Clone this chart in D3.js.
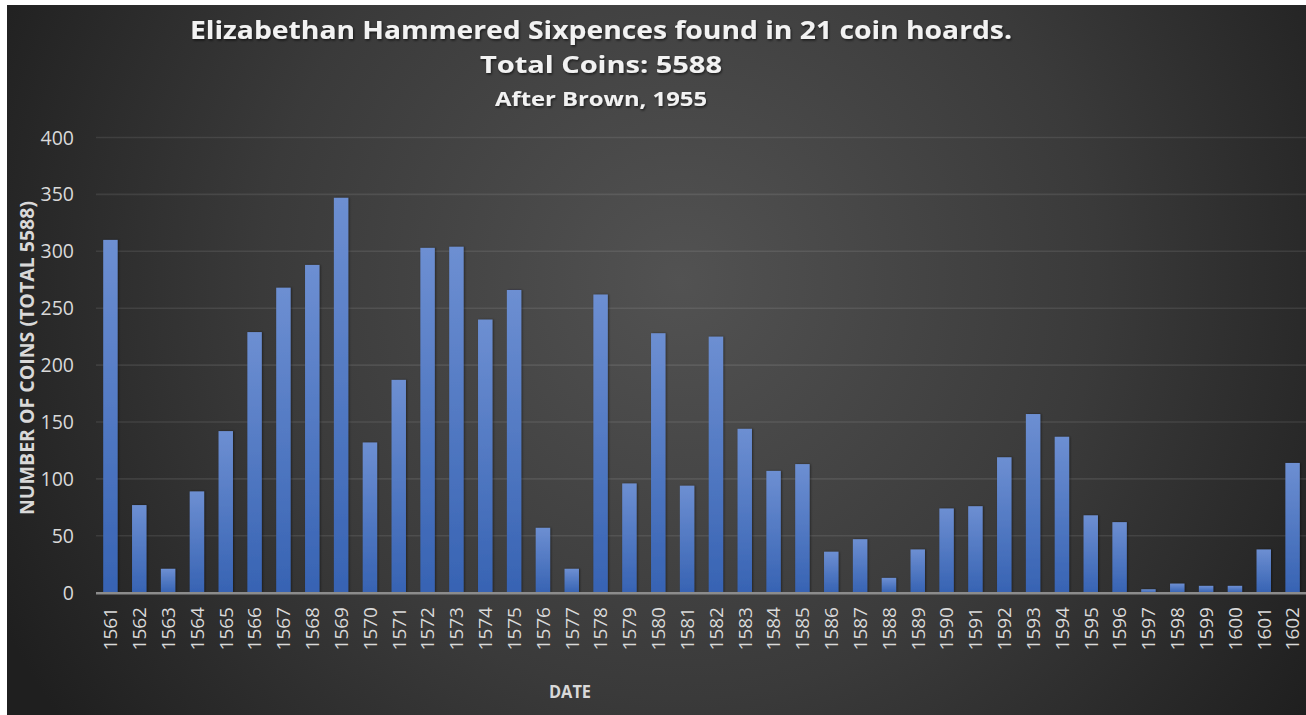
<!DOCTYPE html>
<html>
<head>
<meta charset="utf-8">
<script src="https://cdn.jsdelivr.net/npm/d3@7"></script>
<style>
  html, body { margin: 0; padding: 0; background: #ffffff; }
  svg { display: block; }
</style>
</head>
<body>
<svg id="chart" width="1306" height="715"></svg>
<script>
const years = ["1561","1562","1563","1564","1565","1566","1567","1568","1569","1570","1571","1572","1573","1574","1575","1576","1577","1578","1579","1580","1581","1582","1583","1584","1585","1586","1587","1588","1589","1590","1591","1592","1593","1594","1595","1596","1597","1598","1599","1600","1601","1602"];
const coins = [310,77,21,89,142,229,268,288,347,132,187,303,304,240,266,57,21,262,96,228,94,225,144,107,113,36,47,13,38,74,76,119,157,137,68,62,3,8,6,6,38,114];
const yTicks = [0,50,100,150,200,250,300,350,400];
const titleLines = ["Elizabethan Hammered Sixpences found in 21 coin hoards.", "Total Coins: 5588", "After Brown, 1955"];
const yAxisTitle = "NUMBER OF COINS (TOTAL 5588)";
const xAxisTitle = "DATE";

const svg = d3.select("#chart");
const defs = svg.append("defs");

const bg = defs.append("radialGradient").attr("id","bg")
  .attr("gradientUnits","userSpaceOnUse")
  .attr("cx",680).attr("cy",280).attr("r",760);
bg.append("stop").attr("offset","0%").attr("stop-color","#525252");
bg.append("stop").attr("offset","55%").attr("stop-color","#3a3a3a");
bg.append("stop").attr("offset","100%").attr("stop-color","#1f1f1f");

const barGrad = defs.append("linearGradient").attr("id","barGrad")
  .attr("x1",0).attr("y1",0).attr("x2",0).attr("y2",1);
barGrad.append("stop").attr("offset","0%").attr("stop-color","#6d8fd2");
barGrad.append("stop").attr("offset","100%").attr("stop-color","#3763b3");

const shadow = defs.append("filter").attr("id","shadow")
  .attr("x","-20%").attr("y","-30%").attr("width","140%").attr("height","160%");
shadow.append("feDropShadow").attr("dx",1).attr("dy",1.5).attr("stdDeviation",1.2)
  .attr("flood-color","#000").attr("flood-opacity",0.6);

const barShadow = defs.append("filter").attr("id","barShadow")
  .attr("x","-30%").attr("y","-5%").attr("width","160%").attr("height","110%");
barShadow.append("feDropShadow").attr("dx",1).attr("dy",0).attr("stdDeviation",1.2)
  .attr("flood-color","#000").attr("flood-opacity",0.45);

// background
svg.append("rect").attr("x",7).attr("y",5).attr("width",1299).attr("height",710)
  .attr("fill","url(#bg)");

const x = d3.scaleBand().domain(years).range([96, 1307]).paddingInner(0.5).paddingOuter(0.25);
const y = d3.scaleLinear().domain([0,400]).range([592.7, 137.5]);

// gridlines
svg.append("g").selectAll("line").data(yTicks.filter(d => d > 0)).join("line")
  .attr("x1",96).attr("x2",1306)
  .attr("y1",d => y(d)).attr("y2",d => y(d))
  .attr("stroke","#ffffff").attr("stroke-opacity",0.09).attr("stroke-width",1.6);

// y tick labels
svg.append("g").selectAll("text").data(yTicks).join("text")
  .attr("x",74).attr("y",d => y(d)).attr("dy","0.36em")
  .attr("text-anchor","end")
  .attr("font-family","'Open Sans', sans-serif").attr("font-size",19.5)
  .attr("fill","#d9d9d9").text(d => d);

// bars
svg.append("g").attr("filter","url(#barShadow)").selectAll("rect").data(coins).join("rect")
  .attr("x",(d,i) => x(years[i]))
  .attr("width",x.bandwidth())
  .attr("y",d => y(d))
  .attr("height",d => y(0) - y(d))
  .attr("fill","url(#barGrad)");

// x axis line
svg.append("line").attr("x1",96).attr("x2",1306).attr("y1",y(0)+0.5).attr("y2",y(0)+0.5)
  .attr("stroke","#8c8c8c").attr("stroke-width",2.5);

// x tick labels
svg.append("g").selectAll("text").data(years).join("text")
  .attr("transform",d => `translate(${x(d) + x.bandwidth()/2},607) rotate(-90)`)
  .attr("text-anchor","end").attr("dy","0.36em")
  .attr("font-family","'Open Sans', sans-serif").attr("font-size",19)
  .attr("fill","#d9d9d9").text(d => d);

// axis titles
svg.append("text")
  .attr("transform","translate(27,358) rotate(-90)")
  .attr("text-anchor","middle").attr("dy","0.36em")
  .attr("font-family","'Open Sans', sans-serif").attr("font-weight",700).attr("font-size",20)
  .attr("textLength",314).attr("lengthAdjust","spacingAndGlyphs")
  .attr("fill","#d9d9d9").text(yAxisTitle);

svg.append("text")
  .attr("x",570).attr("y",698).attr("text-anchor","middle")
  .attr("font-family","'Open Sans', sans-serif").attr("font-weight",700).attr("font-size",18)
  .attr("textLength",42).attr("lengthAdjust","spacingAndGlyphs")
  .attr("fill","#d9d9d9").text(xAxisTitle);

// titles
const tg = svg.append("g").attr("filter","url(#shadow)");
const tSpec = [
  {y:39, size:25, len:822},
  {y:73, size:24, len:242},
  {y:106, size:19, len:212}
];
tg.selectAll("text").data(titleLines).join("text")
  .attr("x",601).attr("y",(d,i) => tSpec[i].y)
  .attr("text-anchor","middle")
  .attr("font-family","'Open Sans', sans-serif").attr("font-weight",700)
  .attr("font-size",(d,i) => tSpec[i].size)
  .attr("textLength",(d,i) => tSpec[i].len).attr("lengthAdjust","spacingAndGlyphs")
  .attr("fill","#f2f2f2").text(d => d);
</script>
</body>
</html>
